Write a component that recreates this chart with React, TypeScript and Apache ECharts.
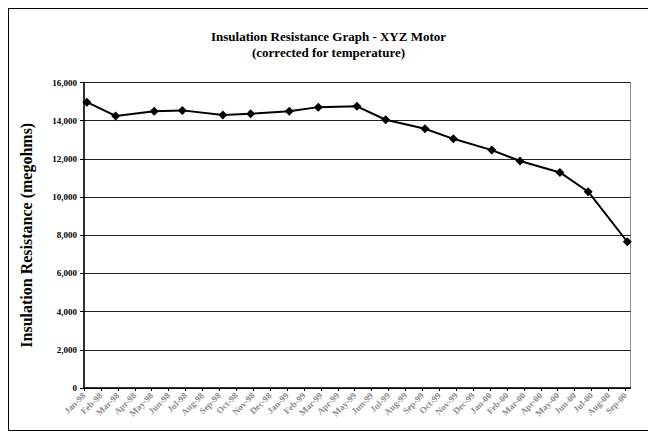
import React, { useEffect, useRef } from "react";
import * as echarts from "echarts";

const titleLines = ["Insulation Resistance Graph - XYZ Motor", "(corrected for temperature)"];
const yAxisTitle = "Insulation Resistance (megohms)";

// tick labels along the x axis (one per month)
const monthTickLabels = [
  "Jan-98", "Feb-98", "Mar-98", "Apr-98", "May-98", "Jun-98", "Jul-98", "Aug-98", "Sep-98", "Oct-98", "Nov-98", "Dec-98",
  "Jan-99", "Feb-99", "Mar-99", "Apr-99", "May-99", "Jun-99", "Jul-99", "Aug-99", "Sep-99", "Oct-99", "Nov-99", "Dec-99",
  "Jan-00", "Feb-00", "Mar-00", "Apr-00", "May-00", "Jun-00", "Jul-00", "Aug-00", "Sep-00",
];

// test dates expressed in months since the first tick
const testMonth = [0.17, 1.87, 4.15, 5.81, 8.21, 9.85, 12.13, 13.85, 16.13, 17.83, 20.15, 21.83, 24.1, 25.77, 28.13, 29.8, 32.11];
// corrected insulation resistance (megohms)
const resistance = [14970, 14250, 14500, 14540, 14300, 14360, 14500, 14710, 14750, 14050, 13580, 13050, 12460, 11890, 11290, 10280, 7660];

const yTicks = { min: 0, max: 16000, interval: 2000 };

export default function App() {
  const ref = useRef<HTMLDivElement>(null);
  useEffect(() => {
    if (!ref.current) return;
    const chart = echarts.init(ref.current, null, { renderer: "svg" });
    const tickValues = monthTickLabels.map((_, i) => i);
    chart.setOption({
      animation: false,
      backgroundColor: "#fff",
      title: {
        text: titleLines.join("\n"),
        left: "center",
        top: 14,
        textStyle: {
          fontFamily: "Liberation Serif",
          fontWeight: "bold",
          fontSize: 13,
          lineHeight: 16,
          color: "#000",
        },
      },
      grid: {
        left: 75,
        top: 73.5,
        right: 17.5,
        bottom: 42,
        show: true,
        borderColor: "#8a8a8a",
        borderWidth: 1,
        backgroundColor: "transparent",
      },
      xAxis: {
        type: "value",
        min: 0,
        max: 32.3,
        interval: 1,
        axisLine: { show: true, onZero: false, lineStyle: { color: "#000", width: 1.5 } },
        axisTick: { show: true, length: 3, customValues: tickValues, lineStyle: { color: "#000" } },
        splitLine: { show: false },
        axisLabel: {
          customValues: tickValues,
          rotate: 45,
          fontSize: 9,
          fontFamily: "Liberation Serif",
          fontWeight: "bold",
          color: "#8c8c8c",
          margin: 6,
          formatter: (v: number) => monthTickLabels[Math.round(v)] ?? "",
        },
      },
      yAxis: {
        type: "value",
        min: yTicks.min,
        max: yTicks.max,
        interval: yTicks.interval,
        name: yAxisTitle,
        nameLocation: "middle",
        nameGap: 50,
        nameTextStyle: {
          fontFamily: "Liberation Serif",
          fontWeight: "bold",
          fontSize: 16,
          color: "#000",
        },
        axisLine: { show: true, lineStyle: { color: "#000", width: 1.5 } },
        axisTick: { show: true, length: 4, lineStyle: { color: "#000" } },
        splitLine: { show: true, lineStyle: { color: "#222", width: 1 } },
        axisLabel: {
          fontFamily: "Liberation Serif",
          fontWeight: "bold",
          fontSize: 9,
          color: "#000",
          margin: 7,
          formatter: (v: number) => v.toLocaleString("en-US"),
        },
      },
      series: [
        {
          type: "line",
          data: testMonth.map((m, i) => [m, resistance[i]]),
          symbol: "diamond",
          symbolSize: 9,
          lineStyle: { color: "#000", width: 2 },
          itemStyle: { color: "#000" },
          clip: false,
        },
      ],
    });
    return () => chart.dispose();
  }, []);
  return (
    <div
      style={{
        width: 641,
        height: 423,
        border: "1px solid #000",
        boxSizing: "border-box",
        position: "relative",
      }}
    >
      <div ref={ref} style={{ width: 639, height: 421 }} />
    </div>
  );
}
